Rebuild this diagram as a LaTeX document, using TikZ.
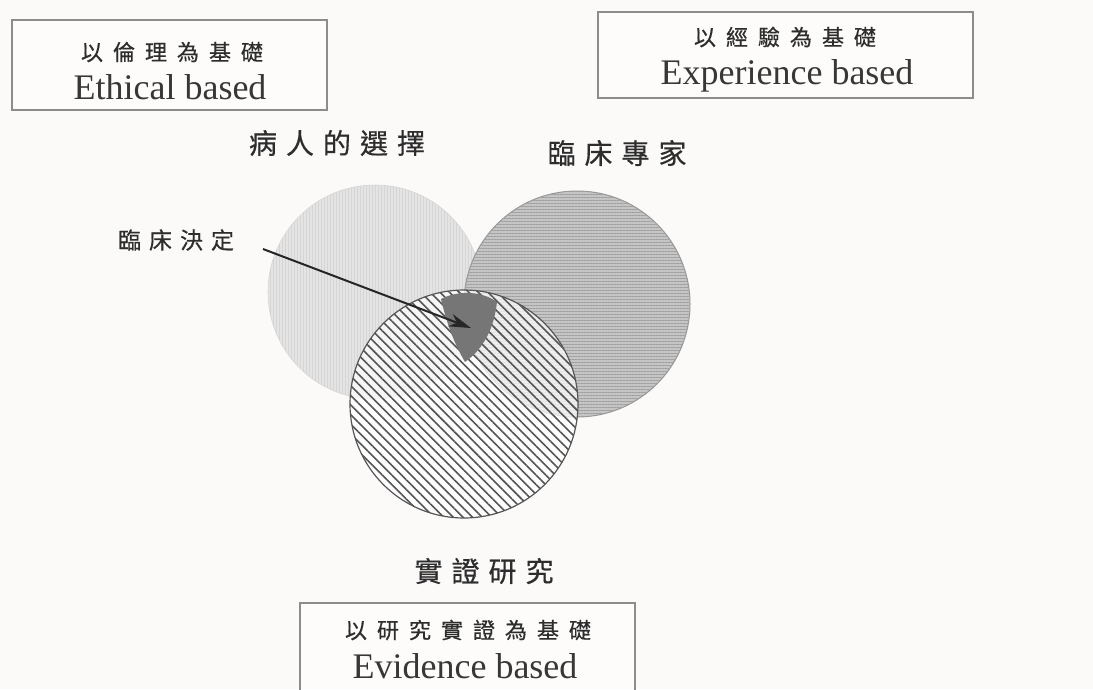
\documentclass[tikz,border=0pt]{standalone}
\usepackage{fontspec}
\setmainfont{Liberation Serif}
\newfontfamily\cjk[FakeBold=0.5]{Noto Sans CJK TC}
\usetikzlibrary{patterns.meta,arrows.meta}
\definecolor{bg}{RGB}{252,250,249}
\definecolor{boxline}{RGB}{140,140,140}
\definecolor{txt}{RGB}{45,45,45}
\definecolor{entxt}{RGB}{55,55,55}
\definecolor{cone}{RGB}{229,228,229}
\definecolor{conel}{RGB}{214,213,214}
\definecolor{ctwo}{RGB}{198,197,198}
\definecolor{ctwol}{RGB}{160,160,160}
\definecolor{ctwob}{RGB}{150,150,150}
\definecolor{hatch}{RGB}{85,85,85}
\definecolor{core}{RGB}{118,118,118}
\newdimen\cjkgap
\newcommand{\gp}{\kern\cjkgap}
\tikzset{
  boxst/.style={draw=boxline, line width=1.4pt, fill=white, fill opacity=0.4, text opacity=1, inner sep=0pt},
  zhbox/.style={font={\cjk\fontsize{22}{26}\selectfont\cjkgap=10pt}, text=txt, inner sep=0pt},
  enbox/.style={font=\fontsize{36}{40}\selectfont, text=entxt, inner sep=0pt},
  zhlab/.style={font={\cjk\fontsize{28}{32}\selectfont\cjkgap=9pt}, text=txt, inner sep=0pt},
  zhsmall/.style={font={\cjk\fontsize{23}{27}\selectfont\cjkgap=8pt}, text=txt, inner sep=0pt},
}
\begin{document}
\begin{tikzpicture}[x=1pt,y=-1pt]
\path[use as bounding box, fill=bg] (0,0) rectangle (1093,689);
\clip (0,0) rectangle (1093,689);

% circles
\node (pcircle) [circle, inner sep=0pt, minimum size=214pt, fill=cone, draw=conel, line width=0.6pt,
  postaction={pattern={Lines[angle=90,distance=3pt,line width=0.6pt]}, pattern color=conel}] at (375,292) {};
\node (ecircle) [circle, inner sep=0pt, minimum size=226pt, fill=ctwo, draw=ctwob, line width=1pt,
  postaction={pattern={Lines[angle=0,distance=3pt,line width=0.7pt]}, pattern color=ctwol}] at (577,304) {};
\node (rcircle) [circle, inner sep=0pt, minimum size=228pt, fill=white, fill opacity=0.72, draw=hatch, line width=1.2pt,
  postaction={fill opacity=1, pattern={Lines[angle=-45,distance=6.8pt,line width=1.6pt]}, pattern color=hatch}] at (464,404) {};

% core (clinical decision region)
\fill[core] (441,299) .. controls (458,290) and (482,291) .. (497,302)
  .. controls (494,330) and (482,350) .. (465,362)
  .. controls (455,345) and (447,325) .. (441,299) -- cycle;

% arrow
\node (dec) [zhsmall] at (176,240) {臨\gp 床\gp 決\gp 定};
\coordinate (tail) at (263,249);
\coordinate (tip) at (471,328);
\draw[line width=2pt, black!85, -{Stealth[length=22pt,width=13pt]}] (tail) -- (tip);

% labels
\node (plab) [zhlab] at (337,143) {病\gp 人\gp 的\gp 選\gp 擇};
\node (elab) [zhlab] at (617,153) {臨\gp 床\gp 專\gp 家};
\node (rlab) [zhlab] at (484,571) {實\gp 證\gp 研\gp 究};

% boxes
\node (ethbox) [boxst, minimum width=315pt, minimum height=90pt] at (169.5,65) {};
\node (ethzh) [zhbox] at (172,52) {以\gp 倫\gp 理\gp 為\gp 基\gp 礎};
\node (ethen) [enbox] at (170,87) {Ethical based};

\node (expbox) [boxst, minimum width=375pt, minimum height=86pt] at (785.5,55) {};
\node (expzh) [zhbox] at (785,37) {以\gp 經\gp 驗\gp 為\gp 基\gp 礎};
\node (expen) [enbox] at (787,76) {Experience based};

\node (evibox) [boxst, minimum width=335pt, minimum height=117pt] at (467.5,661.5) {};
\node (evizh) [zhbox] at (468,630) {以\gp 研\gp 究\gp 實\gp 證\gp 為\gp 基\gp 礎};
\node (evien) [enbox] at (465,666) {Evidence based};
\end{tikzpicture}
\end{document}
